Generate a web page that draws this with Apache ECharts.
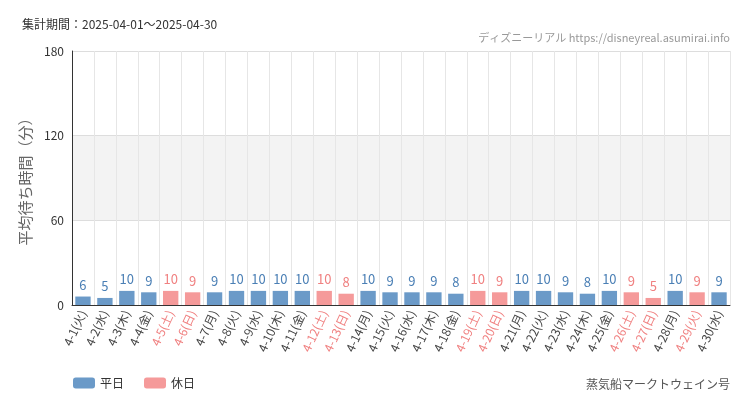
<!DOCTYPE html>
<html><head><meta charset="utf-8">
<script src="https://cdn.jsdelivr.net/npm/echarts@6/dist/echarts.min.js"></script>
<style>body{margin:0}#c{width:750px;height:410px}</style></head>
<body><div id="c"></div>
<script>
const categories=['4-1(火)','4-2(水)','4-3(木)','4-4(金)','4-5(土)','4-6(日)','4-7(月)','4-8(火)','4-9(水)','4-10(木)','4-11(金)','4-12(土)','4-13(日)','4-14(月)','4-15(火)','4-16(水)','4-17(木)','4-18(金)','4-19(土)','4-20(日)','4-21(月)','4-22(火)','4-23(水)','4-24(木)','4-25(金)','4-26(土)','4-27(日)','4-28(月)','4-29(火)','4-30(水)'];
const values=[6,5,10,9,10,9,9,10,10,10,10,10,8,10,9,9,9,8,10,9,10,10,9,8,10,9,5,10,9,9];
const holiday=[0,0,0,0,1,1,0,0,0,0,0,1,1,0,0,0,0,0,1,1,0,0,0,0,0,1,1,0,1,0];
const yTicks=[0,60,120,180];
const blue='#6b9ac8',red='#f59a9a';
const weekday=values.map((v,i)=>holiday[i]?null:v);
const hol=values.map((v,i)=>holiday[i]?v:null);
const font='"Noto Sans CJK JP","Noto Sans",sans-serif';
const chart=echarts.init(document.getElementById('c'));
chart.setOption({
 animation:false,
 textStyle:{fontFamily:font},
 graphic:[
  {type:'text',left:22,top:18,style:{text:'集計期間：2025-04-01～2025-04-30',fontSize:12,fill:'#333',fontFamily:font}},
  {type:'text',right:20,top:32,style:{text:'ディズニーリアル https://disneyreal.asumirai.info',fontSize:11,fill:'#999',fontFamily:font}},
  {type:'text',right:20,top:378,style:{text:'蒸気船マークトウェイン号',fontSize:12,fill:'#555',fontFamily:font}}
 ],
 legend:{left:68,bottom:16,itemWidth:22,itemHeight:11,itemGap:20,textStyle:{fontSize:12,color:'#333'},data:['平日','休日']},
 grid:{left:72,right:20,top:51,bottom:105},
 xAxis:{type:'category',data:categories,
  axisLine:{lineStyle:{color:'#333'}},axisTick:{show:false},
  splitLine:{show:true,lineStyle:{color:'#e6e6e6'}},
  axisLabel:{interval:0,rotate:65,fontSize:12,margin:6,
   formatter:(v,i)=>holiday[i]?'{h|'+v+'}':'{w|'+v+'}',
   rich:{h:{color:'#f08080',fontSize:12},w:{color:'#444',fontSize:12}}}},
 yAxis:{type:'value',min:yTicks[0],max:yTicks[3],interval:60,
  name:'平均待ち時間（分）',nameLocation:'middle',nameGap:34,nameTextStyle:{fontSize:15,color:'#666'},
  axisLine:{show:true,lineStyle:{color:'#333'}},axisLabel:{color:'#333',fontSize:12},
  splitLine:{lineStyle:{color:'#ddd'}},
  splitArea:{show:true,areaStyle:{color:['#fff','#f3f3f3','#fff']}}},
 series:[
  {name:'平日',type:'bar',stack:'a',data:weekday,barWidth:'70%',itemStyle:{color:blue},
   label:{show:true,position:'top',color:'#4a7fb5',fontSize:13}},
  {name:'休日',type:'bar',stack:'a',data:hol,barWidth:'70%',itemStyle:{color:red},
   label:{show:true,position:'top',color:'#f08080',fontSize:13}}
 ]
});
</script></body></html>
